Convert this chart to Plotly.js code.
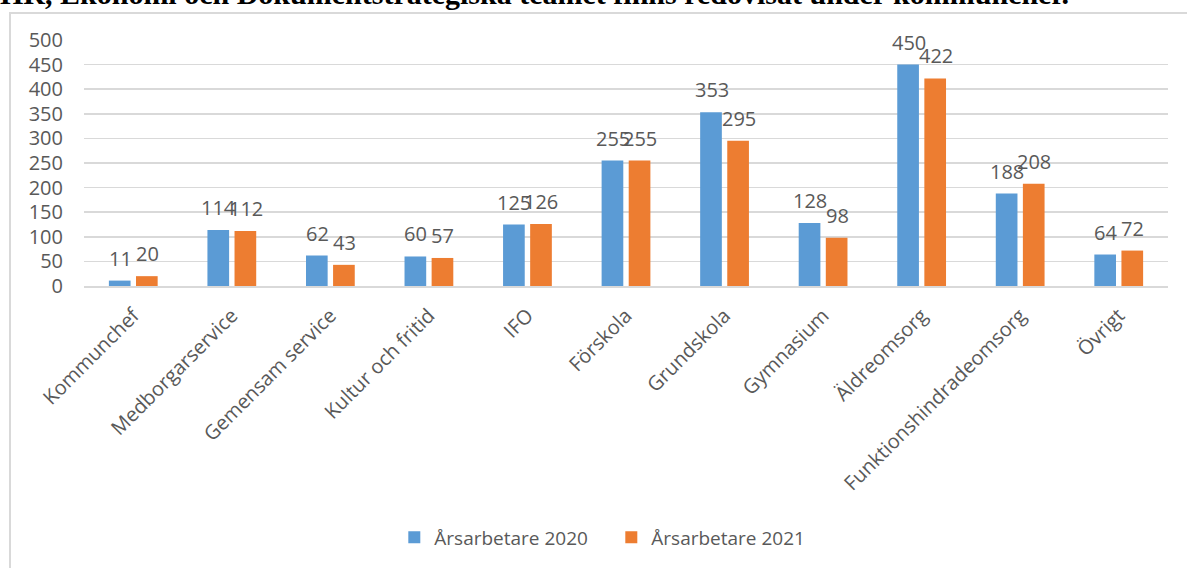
<!DOCTYPE html>
<html>
<head>
<meta charset="utf-8">
<script src="https://cdn.plot.ly/plotly-3.0.1.min.js"></script>
<style>
  html, body { margin:0; padding:0; width:1187px; height:568px; overflow:hidden; background:#fff; }
  #topline { position:absolute; left:0; top:-24px; font: bold 30px "Liberation Serif", "DejaVu Serif", serif; line-height:36px; white-space:nowrap; color:#000; }
  #frame { position:absolute; left:9px; top:12px; width:1200px; height:600px; border:2px solid #d9d9d9; box-sizing:border-box; }
  #chart { position:absolute; left:0; top:0; width:1187px; height:568px; }
</style>
</head>
<body>
<div id="topline">HR, Ekonomi och Dokumentstrategiska teamet finns redovisat under kommunchef.</div>
<div id="frame"></div>
<div id="chart"></div>
<script>
const categories = ["Kommunchef", "Medborgarservice", "Gemensam service", "Kultur och fritid", "IFO", "Förskola", "Grundskola", "Gymnasium", "Äldreomsorg", "Funktionshindradeomsorg", "Övrigt"];
const values2020 = [11, 114, 62, 60, 125, 255, 353, 128, 450, 188, 64];
const values2021 = [20, 112, 43, 57, 126, 255, 295, 98, 422, 208, 72];
const seriesNames = ["Årsarbetare 2020", "Årsarbetare 2021"];
const yTicks = [0, 50, 100, 150, 200, 250, 300, 350, 400, 450, 500];

const FONT = '"Open Sans", "Noto Sans", sans-serif';
const GRAY = '#595959';
const BLUE = '#5B9BD5';
const ORANGE = '#ED7D31';

const traces = [
  { type:'bar', name:seriesNames[0], x:categories, y:values2020, marker:{color:BLUE}, hoverinfo:'x+y' },
  { type:'bar', name:seriesNames[1], x:categories, y:values2021, marker:{color:ORANGE}, hoverinfo:'x+y' }
];

const annotations = [];
categories.forEach((c, i) => {
  annotations.push({ x:c, y:values2020[i], xref:'x', yref:'y', text:String(values2020[i]), showarrow:false,
    xshift:-13, yshift:7, yanchor:'bottom', xanchor:'center', font:{family:FONT, size:20, color:GRAY} });
  annotations.push({ x:c, y:values2021[i], xref:'x', yref:'y', text:String(values2021[i]), showarrow:false,
    xshift:14, yshift:7, yanchor:'bottom', xanchor:'center', font:{family:FONT, size:20, color:GRAY} });
});

const layout = {
  width:1187, height:568,
  margin:{l:84, r:19, t:40, b:282},
  paper_bgcolor:'rgba(0,0,0,0)', plot_bgcolor:'rgba(0,0,0,0)',
  barmode:'group', bargap:0.45, bargroupgap:0.2,
  font:{family:FONT, color:GRAY},
  xaxis:{ tickangle:-45, tickfont:{family:FONT, size:20, color:GRAY}, showline:true, linecolor:'#d9d9d9', linewidth:2,
          showgrid:false, zeroline:false, ticks:'', ticklabelstandoff:8, automargin:false },
  yaxis:{ range:[0,500], tickvals:yTicks, tickfont:{family:FONT, size:20, color:GRAY}, showgrid:true, gridcolor:'#d9d9d9', gridwidth:1.5,
          zeroline:false, showline:false, ticks:'', ticklabelstandoff:20, automargin:false, fixedrange:true },
  showlegend:true,
  legend:{ orientation:'h', xref:'container', yref:'container', x:0.515, y:0.054, xanchor:'center', yanchor:'middle',
           font:{family:FONT, size:19, color:GRAY}, itemwidth:30, entrywidth:172, entrywidthmode:'pixels', tracegroupgap:0 },
  annotations:annotations
};

Plotly.newPlot('chart', traces, layout, {displayModeBar:false, staticPlot:true});
</script>
</body>
</html>
